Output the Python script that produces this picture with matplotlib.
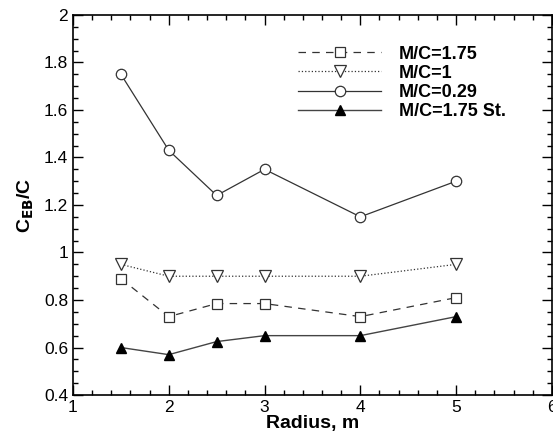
import matplotlib
matplotlib.use("Agg")
import matplotlib.pyplot as plt
from matplotlib.ticker import MultipleLocator

plt.rcParams['font.family'] = ['Liberation Sans', 'DejaVu Sans']

radius = [1.5, 2, 2.5, 3, 4, 5]
mc_175 = [0.89, 0.73, 0.785, 0.785, 0.73, 0.81]
mc_1 = [0.95, 0.90, 0.90, 0.90, 0.90, 0.95]
mc_029 = [1.75, 1.43, 1.24, 1.35, 1.15, 1.30]
mc_175_st = [0.60, 0.57, 0.625, 0.65, 0.65, 0.73]
labels = ["M/C=1.75", "M/C=1", "M/C=0.29", "M/C=1.75 St."]
xticks = [1, 2, 3, 4, 5, 6]
yticks = [0.4, 0.6, 0.8, 1.0, 1.2, 1.4, 1.6, 1.8, 2.0]
yticklabels = ['0.4', '0.6', '0.8', '1', '1.2', '1.4', '1.6', '1.8', '2']

fig = plt.figure(figsize=(5.53, 4.37), dpi=100)
ax = fig.add_axes([0.132, 0.096, 0.866, 0.870])

lc = '#333333'
ax.plot(radius, mc_175, linestyle=(0, (6, 5)), color=lc, lw=0.9, marker='s',
        ms=7, mfc='white', mec=lc, mew=0.9, label=labels[0])
ax.plot(radius, mc_1, linestyle=':', color=lc, lw=0.9, marker='v',
        ms=8, mfc='white', mec=lc, mew=0.9, label=labels[1])
ax.plot(radius, mc_029, linestyle='-', color=lc, lw=0.9, marker='o',
        ms=7.5, mfc='white', mec=lc, mew=0.9, label=labels[2])
ax.plot(radius, mc_175_st, linestyle='-', color='#444444', lw=1.0, marker='^',
        ms=7.5, mfc='black', mec='black', label=labels[3])

ax.set_xlim(1, 6)
ax.set_ylim(0.4, 2)
ax.set_xticks(xticks)
ax.set_xticklabels([str(v) for v in xticks])
ax.set_yticks(yticks)
ax.set_yticklabels(yticklabels)
ax.xaxis.set_minor_locator(MultipleLocator(0.2))
ax.yaxis.set_minor_locator(MultipleLocator(0.05))
ax.tick_params(which='both', direction='in', top=True, right=True, labelsize=12.5, width=1)
ax.tick_params(which='major', length=7)
ax.tick_params(which='minor', length=3.5)
for s in ax.spines.values():
    s.set_linewidth(1.2)

ax.set_xlabel('Radius, m', fontsize=14, fontweight='bold', labelpad=0)
ax.set_ylabel(r'C$_{\mathbf{EB}}$/C', fontsize=14, fontweight='bold', labelpad=6)

leg = ax.legend(loc='upper left', bbox_to_anchor=(0.455, 0.938), frameon=False,
                prop={'weight': 'bold', 'size': 13}, handlelength=4.6,
                labelspacing=0.12, handletextpad=1.0, borderaxespad=0)

fig.savefig('out.png', dpi=100)
